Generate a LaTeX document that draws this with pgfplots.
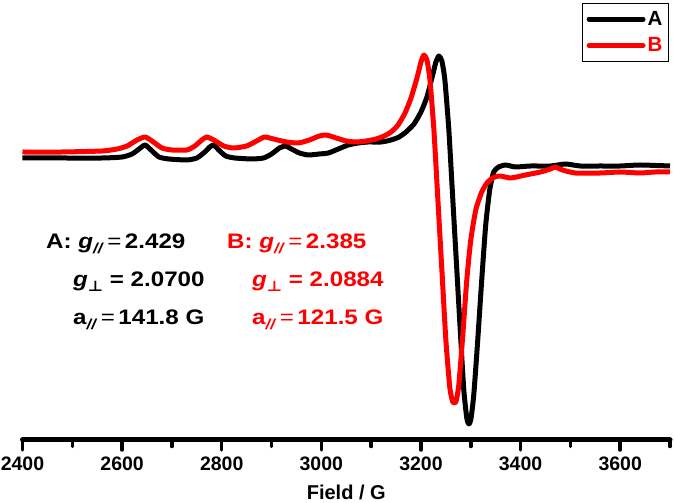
\documentclass[border=0pt]{standalone}
\usepackage{fontspec}
\setmainfont{Liberation Sans}
\newfontfamily\annf[FakeStretch=1.15]{Liberation Sans}
\newfontfamily\dejavu[FakeStretch=1.15]{DejaVu Sans}
\usepackage{pgfplots}
\pgfplotsset{compat=1.18}
\definecolor{myred}{RGB}{255,0,0}
\newcommand{\sub}[1]{\raisebox{-0.45ex}{\fontsize{14.5}{14.5}\selectfont #1}}
\newcommand{\annfont}{\annf\fontsize{21}{22}\selectfont\bfseries}
\begin{document}
\begin{tikzpicture}[x=1pt,y=1pt]
\useasboundingbox (0,0) rectangle (675,503);
\begin{axis}[at={(22.5pt,63pt)}, anchor=south west, scale only axis,
  width=647.5pt, height=440pt,
  xmin=2400, xmax=3700, ymin=0, ymax=440,
  axis x line=bottom, axis y line=none,
  axis line style={-, line width=5pt, line cap=round},
  ytick=\empty,
  xtick={2400,2600,...,3600},
  minor xtick={2500,2700,...,3700},
  tick align=outside,
  major tick length=10pt, minor tick length=6.5pt,
  every tick/.style={black, line width=3.5pt, line cap=round},
  xticklabel style={font=\fontsize{19.5}{20}\selectfont\bfseries, anchor=center, yshift=-13.5pt},
  /pgf/number format/assume math mode=true,
  /pgf/number format/set thousands separator={},
  xlabel={Field / G},
  xlabel style={font=\fontsize{20}{22}\selectfont\bfseries, at={(axis description cs:0.5,-0.119)}, anchor=center},
  clip=false,
  legend image code/.code={\draw[#1, line cap=round] (0pt,0pt) -- (54pt,0pt);},
  legend style={at={(rel axis cs:0.9985,0.994)}, anchor=north east, draw=black, line width=1.3pt,
    font=\fontsize{20.5}{21}\selectfont\bfseries, inner xsep=4pt, inner ysep=6pt, row sep=7pt},
  legend cell align=left,
]
\addplot[black, line width=5pt, line join=round, smooth, tension=0.35] coordinates {
(2400,282)(2480,282)(2560,282)(2600,283)(2620,286)(2634,291)(2646,295)(2658,290)(2674,283)
(2694,281)(2730,280)(2750,282)(2766,288)(2776,293)(2784,295)(2794,290)(2808,284)(2826,282)
(2860,281)(2884,282)(2900,286)(2916,292)(2928,294)(2940,291)(2956,287)(2974,285)(2996,286)
(3014,287)(3034,291)(3054,295)(3074,297)(3094,298)(3120,298)(3140,300)(3156,303)(3170,308)
(3186,316)(3200,328)(3212,343)(3222,362)(3230,378)(3236,384)(3242,379)(3248,360)(3256,310)
(3264,240)(3272,170)(3280,100)(3286,50)(3292,22)(3296,16)(3300,20)(3306,45)(3314,100)
(3322,160)(3330,215)(3338,250)(3346,268)(3356,273)(3370,275)(3390,273)(3420,274)(3460,274)
(3490,276)(3520,274)(3560,274)(3600,274)(3640,275)(3700,274)
};
\addlegendentry{A}
\addplot[myred, line width=5pt, line join=round, smooth, tension=0.35] coordinates {
(2400,288)(2480,288)(2560,289)(2590,291)(2610,294)(2630,300)(2646,303)(2660,299)(2680,292)
(2700,290)(2730,290)(2746,294)(2760,300)(2770,303)(2784,300)(2804,294)(2824,292)(2850,294)
(2870,299)(2886,303)(2904,301)(2930,298)(2954,297)(2976,300)(2996,304)(3010,305)(3030,302)
(3050,299)(3070,298)(3090,299)(3110,301)(3126,304)(3140,308)(3154,315)(3168,327)(3180,342)
(3192,362)(3200,378)(3206,385)(3212,380)(3218,360)(3226,310)(3234,240)(3242,170)(3250,100)
(3258,52)(3264,38)(3270,38)(3276,55)(3284,105)(3292,160)(3300,200)(3310,230)(3322,248)
(3334,258)(3348,263)(3360,264)(3380,262)(3410,265)(3440,268)(3460,271)(3470,273)(3484,270)
(3510,267)(3560,267)(3600,268)(3640,267)(3670,268)(3700,268)
};
\addlegendentry{\textcolor{myred}{B}}
\end{axis}
% annotations
\node[anchor=base west, inner sep=0pt, font=\annfont] at (46,254)
  {A: \textit{g}\sub{\textit{//}}\,{\mdseries=}\,2.429};
\node[anchor=base west, inner sep=0pt, font=\annfont, text=myred] at (227,254)
  {B: \textit{g}\sub{\textit{//}}\,{\mdseries=}\,2.385};
\node[anchor=base west, inner sep=0pt, font=\annfont] at (73,216)
  {\textit{g}\sub{\dejavu\bfseries ⊥} = 2.0700};
\node[anchor=base west, inner sep=0pt, font=\annfont, text=myred] at (252,216)
  {\textit{g}\sub{\dejavu\bfseries ⊥} = 2.0884};
\node[anchor=base west, inner sep=0pt, font=\annfont] at (73,178)
  {a\sub{\textit{//}}\,{\mdseries=}\,141.8 G};
\node[anchor=base west, inner sep=0pt, font=\annfont, text=myred] at (252,178)
  {a\sub{\textit{//}}\,{\mdseries=}\,121.5 G};
\end{tikzpicture}
\end{document}
